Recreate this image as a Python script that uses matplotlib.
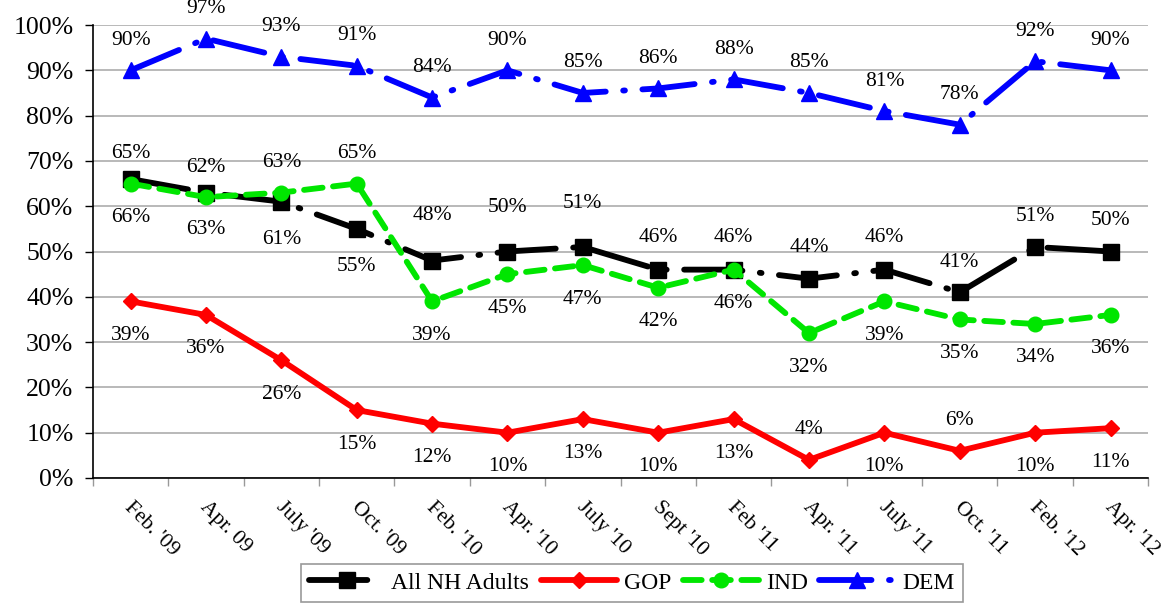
import numpy as np
import matplotlib
matplotlib.use("Agg")
import matplotlib.pyplot as plt
from matplotlib.ticker import FixedLocator, PercentFormatter

# --- dados ---
periodos = ["Feb. '09", "Apr. 09", "July '09", "Oct. '09", "Feb. '10", "Apr. '10",
            "July '10", "Sept '10", "Feb '11", "Apr. '11", "July '11", "Oct. '11",
            "Feb. '12", "Apr. '12"]
todos = [66, 63, 61, 55, 48, 50, 51, 46, 46, 44, 46, 41, 51, 50]
gop = [39, 36, 26, 15, 12, 10, 13, 10, 13, 4, 10, 6, 10, 11]
ind = [65, 62, 63, 65, 39, 45, 47, 42, 46, 32, 39, 35, 34, 36]
dem = [90, 97, 93, 91, 84, 90, 85, 86, 88, 85, 81, 78, 92, 90]

# deslocamento vertical dos rótulos (pixels, negativo = acima)
desl_todos = [38, 37, 38, 38, -45, -44, -43, -32, -32, -31, -32, -30, -30, -31]
desl_gop = [34, 34, 34, 34, 34, 34, 34, 34, 34, -30, 34, -30, 34, 34]
desl_ind = [-30, -30, -30, -30, 34, 34, 34, 34, 34, 34, 34, 34, 34, 34]
desl_dem = [-30] * 14

plt.rcParams['font.family'] = ['Liberation Serif', 'DejaVu Serif']

fig = plt.figure(figsize=(11.61, 6.03), dpi=100)
ax = fig.add_axes([0.080, 0.2073, 0.909, 0.7512])

x = np.arange(len(periodos))
lw = 4.2

series = [
    ("All NH Adults", todos, dict(color="black", marker="s", markersize=11, dashes=(10, 3, 0.3, 3)), desl_todos),
    ("GOP", gop, dict(color="#ff0000", marker="D", markersize=8.5, linestyle="-"), desl_gop),
    ("IND", ind, dict(color="#00e600", marker="o", markersize=10.5, dashes=(3.2, 1.8)), desl_ind),
    ("DEM", dem, dict(color="#0000ff", marker="^", markersize=11.5, dashes=(9, 3, 0.3, 3)), desl_dem),
]

for nome, vals, estilo, desl in series:
    ax.plot(x, vals, label=nome, linewidth=lw, solid_capstyle="round",
            dash_capstyle="round", clip_on=False, **estilo)
    for xi, v, d in zip(x, vals, desl):
        ax.annotate(f"{v}%", (xi, v), xytext=(0, -d * 0.72), textcoords="offset points",
                    ha="center", va="center", fontsize=15.5, annotation_clip=False)

ax.set_xlim(-0.5, len(periodos) - 0.5)
ax.set_ylim(0, 100)
ax.set_yticks(np.arange(0, 101, 10))
ax.yaxis.set_major_formatter(PercentFormatter(decimals=0))
ax.tick_params(axis="y", labelsize=18.5, length=6, width=1, pad=8)

ax.set_xticks(x)
ax.set_xticklabels(periodos, rotation=-45, ha="left", va="center",
                   rotation_mode="anchor", fontsize=15.5)
ax.tick_params(axis="x", which="major", length=0, pad=19)
ax.xaxis.set_minor_locator(FixedLocator(np.arange(-0.5, len(periodos), 1.0)))
ax.tick_params(axis="x", which="minor", length=6, width=1, color="#999999")
offset = matplotlib.transforms.ScaledTranslation(-3 / 100, 0, fig.dpi_scale_trans)
for lab in ax.get_xticklabels():
    lab.set_transform(lab.get_transform() + offset)

ax.grid(axis="y", color="#b3b3b3", linewidth=1.3)
ax.set_axisbelow(True)
for lado in ["top", "right"]:
    ax.spines[lado].set_visible(False)
ax.spines["left"].set_linewidth(1.2)
ax.spines["bottom"].set_linewidth(1.2)

leg = fig.legend(loc="upper center", bbox_to_anchor=(0.544, 0.065), ncol=4,
                 fontsize=17, handlelength=3.2, columnspacing=0.5, handletextpad=0.3,
                 borderpad=0.35, borderaxespad=0, fancybox=False, framealpha=1,
                 edgecolor="#999999")
leg.get_frame().set_linewidth(1.2)

fig.savefig("out.png", dpi=100)
